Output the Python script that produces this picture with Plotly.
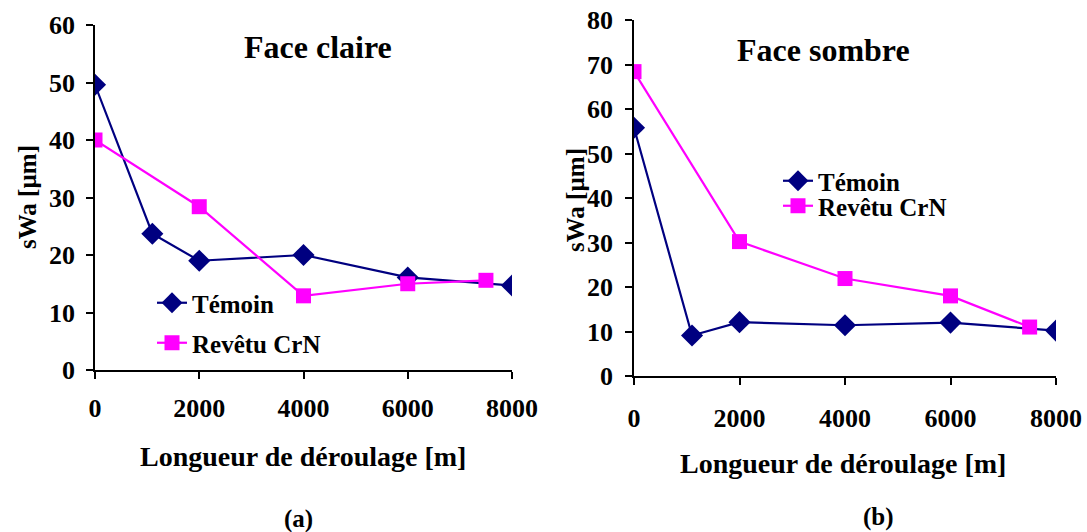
import plotly.graph_objects as go

# Data
temoin_x = [0, 1100, 2000, 4000, 6000, 8000]
revetu_x = [0, 2000, 4000, 6000, 7500]

claire_temoin = [49.6, 23.7, 19.0, 20.0, 16.1, 14.7]
claire_revetu = [40.0, 28.4, 12.9, 15.0, 15.6]

sombre_temoin = [55.8, 9.1, 12.1, 11.4, 12.0, 10.2]
sombre_revetu = [68.4, 30.2, 21.9, 18.0, 11.0]

x_ticks = [0, 2000, 4000, 6000, 8000]
y_ticks_a = [0, 10, 20, 30, 40, 50, 60]
y_ticks_b = [0, 10, 20, 30, 40, 50, 60, 70, 80]

NAVY = "#000080"
MAG = "#FF00FF"
FONT = "Liberation Serif, Times New Roman, serif"

fig = go.Figure()

def add(x, y, name, color, symbol, xa, ya, leg):
    fig.add_trace(go.Scatter(
        x=x, y=y, name=name, mode="lines+markers",
        line=dict(color=color, width=2.2),
        marker=dict(color=color, symbol=symbol, size=15 if symbol == "square" else 17),
        xaxis=xa, yaxis=ya, legend=leg, showlegend=True,
    ))

add(temoin_x, claire_temoin, "Témoin", NAVY, "diamond", "x", "y", "legend")
add(revetu_x, claire_revetu, "Revêtu CrN", MAG, "square", "x", "y", "legend2")
add(temoin_x, sombre_temoin, "Témoin", NAVY, "diamond", "x2", "y2", "legend3")
add(revetu_x, sombre_revetu, "Revêtu CrN", MAG, "square", "x2", "y2", "legend4")

W, H = 1087, 532
def px(x): return x / W
def py(y): return 1 - y / H

axis_common = dict(
    showline=True, linecolor="black", linewidth=1.5,
    ticks="outside", tickcolor="black", ticklen=7, tickwidth=1.5,
    showgrid=False, zeroline=False, automargin=False,
    ticklabeloverflow="allow",
    tickfont=dict(family=FONT, size=26, color="black", weight="bold"),
)

fig.update_layout(
    width=W, height=H,
    margin=dict(l=0, r=0, t=0, b=0, autoexpand=False),
    paper_bgcolor="white", plot_bgcolor="white",
    font=dict(family=FONT, color="black"),
    xaxis=dict(domain=[px(95), px(512)], range=[0, 8000], tickvals=x_ticks,
               ticklabelstandoff=7, anchor="y", **axis_common),
    yaxis=dict(domain=[py(370), py(25)], range=[0, 60], tickvals=y_ticks_a,
               ticklabelstandoff=6, anchor="x", **axis_common),
    xaxis2=dict(domain=[px(634), px(1056)], range=[0, 8000], tickvals=x_ticks,
                ticklabelstandoff=11, anchor="y2", **axis_common),
    yaxis2=dict(domain=[py(376), py(20)], range=[0, 80], tickvals=y_ticks_b,
                ticklabelstandoff=7, anchor="x2", **axis_common),
)

leg_font = dict(family=FONT, size=25, color="black", weight="bold")
def legend(x, y):
    return dict(x=px(x), y=py(y), xanchor="left", yanchor="middle",
                bgcolor="rgba(0,0,0,0)", font=leg_font, itemwidth=30)

fig.update_layout(
    legend=legend(152, 303),
    legend2=legend(152, 343),
    legend3=legend(778, 181),
    legend4=legend(778, 206),
)

def ann(text, x, y, size, angle=0):
    fig.add_annotation(text=text, x=px(x), y=py(y), xref="paper", yref="paper",
                       xanchor="center", yanchor="middle",
                       showarrow=False, textangle=angle,
                       font=dict(family=FONT, size=size, color="black", weight="bold"))

ann("Face claire", 318, 47, 32)
ann("Face sombre", 823, 50, 32)
ann("sWa [µm]", 27, 197, 25, -90)
ann("sWa [µm]", 575, 200, 25, -90)
ann("Longueur de déroulage [m]", 303, 456, 28)
ann("Longueur de déroulage [m]", 843, 463, 28)
ann("(a)", 298, 519, 25)
ann("(b)", 878, 517, 25)

fig.write_html("out.html", config={"displayModeBar": False},
               post_script="document.body.style.margin='0';")
